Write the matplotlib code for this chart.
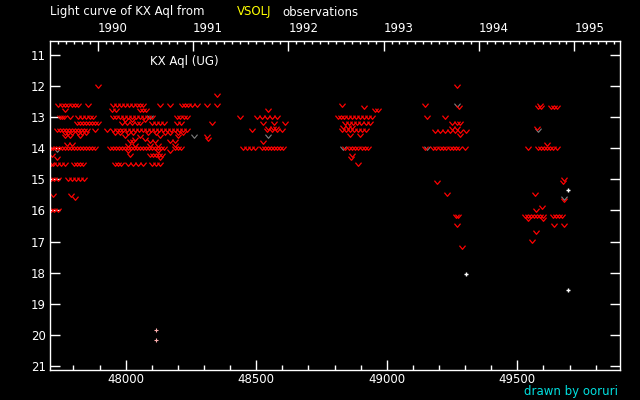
import datetime as dt

import matplotlib
matplotlib.use("Agg")
import matplotlib.pyplot as plt
from matplotlib.path import Path

# negative / visual estimates (red "v"), rows of (magnitude, [JD-2400000 ...])
season_1989 = [
    (12.0, [47894]),
    (12.6, [47741, 47756, 47767, 47779, 47794, 47805, 47817, 47856]),
    (12.77, [47767]),
    (13.0, [47748, 47756, 47764, 47787, 47817, 47833, 47848, 47863, 47875]),
    (13.2, [47813, 47825, 47836, 47848, 47859, 47871, 47882, 47894]),
    (13.4, [47737, 47748, 47760, 47771, 47783, 47794, 47806, 47817, 47829, 47840, 47852, 47882]),
    (13.5, [47767, 47779, 47794, 47817, 47833, 47848]),
    (13.6, [47767, 47787, 47825]),
    (13.86, [47775, 47794]),
    (14.0, [47712, 47721, 47733, 47744, 47756, 47767, 47779, 47790, 47802, 47813, 47825, 47836,
            47848, 47859, 47871, 47882]),
    (14.2, [47718]),
    (14.3, [47737]),
    (14.5, [47712, 47721, 47737, 47752, 47767, 47802, 47813, 47825, 47836]),
    (15.0, [47712, 47725, 47741, 47779, 47794, 47810, 47825, 47840]),
    (15.5, [47721, 47790]),
    (15.6, [47806]),
    (16.0, [47712, 47725, 47741]),
]

season_1990 = [
    (12.3, [48350]),
    (12.6, [47951, 47967, 47982, 47997, 48013, 48028, 48043, 48055, 48066, 48131, 48170, 48216,
            48227, 48239, 48254, 48273, 48311, 48350]),
    (12.77, [47947, 47963, 48055, 48066, 48078]),
    (13.0, [47951, 47963, 47978, 47993, 48009, 48024, 48039, 48055, 48070, 48085, 48101, 48196,
            48208, 48223, 48235]),
    (13.1, [47997, 48024, 48074]),
    (13.2, [47986, 48005, 48024, 48043, 48055, 48101, 48116, 48131, 48147, 48196, 48212, 48330]),
    (13.4, [47928, 47951, 47967, 47978, 47990, 48005, 48020, 48036, 48051, 48066, 48082, 48097,
            48112, 48128, 48143, 48158, 48173, 48189, 48204, 48219, 48235]),
    (13.5, [47959, 47978, 48009, 48028, 48085, 48116, 48150, 48170, 48200, 48219]),
    (13.6, [47997, 48055, 48131, 48200, 48311]),
    (13.7, [48036, 48074, 48315]),
    (13.75, [48016, 48028, 48093, 48112, 48170, 48189]),
    (13.9, [48009, 48036, 48093, 48124, 48189]),
    (14.0, [47940, 47951, 47963, 47974, 47986, 47997, 48009, 48020, 48032, 48043, 48055, 48066,
            48078, 48089, 48101, 48112, 48124, 48135, 48147, 48189, 48200, 48212]),
    (14.1, [48009, 48124, 48170]),
    (14.2, [48016, 48093, 48104, 48116, 48127, 48139]),
    (14.3, [48131]),
    (14.5, [47959, 47970, 47982, 48009, 48028, 48047, 48066, 48101, 48116, 48131]),
]

season_1991 = [
    (12.77, [48545]),
    (13.0, [48438, 48503, 48522, 48541, 48560, 48579]),
    (13.2, [48526, 48568, 48610]),
    (13.35, [48545, 48564, 48576]),
    (13.4, [48484, 48541, 48560, 48579, 48599]),
    (13.8, [48526]),
    (14.0, [48449, 48465, 48480, 48495, 48522, 48534, 48545, 48556, 48568, 48579, 48591, 48602]),
]

season_1992 = [
    (12.6, [48828]),
    (12.66, [48913]),
    (12.77, [48955, 48966]),
    (13.0, [48813, 48825, 48836, 48851, 48867, 48882, 48897, 48913, 48928, 48943]),
    (13.2, [48840, 48855, 48870, 48886, 48901, 48920, 48936]),
    (13.3, [48832, 48851, 48867]),
    (13.4, [48828, 48844, 48859, 48874, 48890, 48905, 48920]),
    (13.57, [48859, 48897]),
    (14.0, [48840, 48855, 48867, 48878, 48890, 48905, 48917, 48928]),
    (14.2, [48867]),
    (14.3, [48863]),
    (14.5, [48890]),
]

season_1993 = [
    (12.0, [49269]),
    (12.6, [49146]),
    (12.66, [49277]),
    (13.0, [49154, 49223]),
    (13.2, [49250, 49269, 49280]),
    (13.35, [49250, 49269]),
    (13.46, [49185, 49204, 49223, 49242, 49261, 49280, 49303]),
    (13.57, [49280]),
    (14.0, [49146, 49177, 49188, 49204, 49215, 49227, 49242, 49253, 49265, 49277, 49299]),
    (15.08, [49192]),
    (15.47, [49231]),
    (16.18, [49265, 49273]),
    (16.48, [49269]),
    (17.18, [49288]),
]

season_1994 = [
    (12.6, [49587]),
    (12.66, [49579, 49591, 49629, 49641, 49652]),
    (13.35, [49575]),
    (13.86, [49614]),
    (14.0, [49541, 49579, 49591, 49602, 49614, 49625, 49637, 49652]),
    (15.0, [49679]),
    (15.09, [49675]),
    (15.47, [49568]),
    (15.67, [49679]),
    (15.88, [49594]),
    (15.99, [49571]),
    (16.18, [49529, 49541, 49552, 49564, 49575, 49587, 49598, 49637, 49648, 49660, 49671]),
    (16.28, [49541, 49598]),
    (16.48, [49641, 49679]),
    (16.7, [49571]),
    (16.98, [49556]),
]

# other observers (grey "v")
grey_jd = [47737, 48093, 48262, 48545, 48832, 49154, 49269, 49579, 49679]
grey_mag = [14.05, 13.0, 13.6, 13.6, 14.0, 14.0, 12.6, 13.4, 15.6]

# positive observations (white +)
white_jd = [49303, 49692, 49692]
white_mag = [18.05, 15.35, 18.57]

# photographic points (pink +)
pink_jd = [48116, 48116]
pink_mag = [19.85, 20.15]

years = [1990, 1991, 1992, 1993, 1994, 1995]


def jd_of(d):
    return (d - dt.datetime(1858, 11, 17)).days + 0.5


red_jd, red_mag = [], []
for season in [season_1989, season_1990, season_1991, season_1992, season_1993, season_1994]:
    for mag, jds in season:
        red_jd += jds
        red_mag += [mag] * len(jds)

vee = Path([(-1, 0.6), (0, -0.6), (1, 0.6)], [Path.MOVETO, Path.LINETO, Path.LINETO])

fig = plt.figure(figsize=(6.4, 4.0), dpi=100, facecolor="black")
ax = fig.add_axes([50 / 640, 30 / 400, 570 / 640, 329 / 400], facecolor="black")

ax.plot(grey_jd, grey_mag, ls="none", marker=vee, ms=4.4, mfc="none", mec="#808080", mew=0.8)
ax.plot(red_jd, red_mag, ls="none", marker=vee, ms=4.4, mfc="none", mec="#ff0000", mew=0.9)
ax.plot(white_jd, white_mag, ls="none", marker="+", ms=3.5, mec="white", mew=1.0)
ax.plot(pink_jd, pink_mag, ls="none", marker="+", ms=2.5, mec="#ffb0b0", mew=0.8)

ax.set_xlim(47710, 49893)
ax.set_ylim(21.13, 10.55)

for s in ax.spines.values():
    s.set_color("white")
    s.set_linewidth(1.0)

ax.set_yticks(range(11, 22))
ax.set_xticks([48000, 48500, 49000, 49500])
ax.set_xticks(range(47800, 49900, 100), minor=True)
ax.tick_params(axis="both", which="both", direction="in", colors="white", labelsize=8.5)
ax.tick_params(axis="y", which="major", length=7.5, width=1, right=True, pad=3)
ax.tick_params(axis="x", which="major", length=7.5, width=1, pad=2.5)
ax.tick_params(axis="x", which="minor", length=3.8, width=1)
ax.tick_params(axis="y", which="minor", left=False, right=False)

top = ax.twiny()
top.set_xlim(ax.get_xlim())
top.set_xticks([jd_of(dt.datetime(y, 1, 1)) for y in years])
top.set_xticklabels([str(y) for y in years])
months = [jd_of(dt.datetime(y, m, 1)) for y in range(1989, 1996) for m in range(1, 13)]
top.set_xticks([m for m in months if 47710 < m < 49893], minor=True)
top.tick_params(axis="x", which="major", direction="in", length=7.5, width=1,
                colors="white", labelsize=8.5, pad=4.5)
top.tick_params(axis="x", which="minor", direction="in", length=2.5, width=1, colors="white")
for lab in top.get_xticklabels():
    lab.set_ha("left")
for s in top.spines.values():
    s.set_visible(False)

fig.text(50 / 640, 1 - 12 / 400, "Light curve of KX Aql from", color="white",
         fontsize=8.5, va="center", ha="left")
fig.text(237 / 640, 1 - 12 / 400, "VSOLJ", color="#ffff00", fontsize=8.5, va="center", ha="left")
fig.text(282 / 640, 1 - 12 / 400, "observations", color="white", fontsize=8.5,
         va="center", ha="left")
fig.text(150 / 640, 1 - 62 / 400, "KX Aql (UG)", color="white", fontsize=8.5,
         va="center", ha="left")
fig.text(618 / 640, 1 - 391 / 400, "drawn by ooruri", color="#00e0e0", fontsize=8.5,
         va="center", ha="right")

fig.savefig("out.png", dpi=100, facecolor="black")
plt.close(fig)
